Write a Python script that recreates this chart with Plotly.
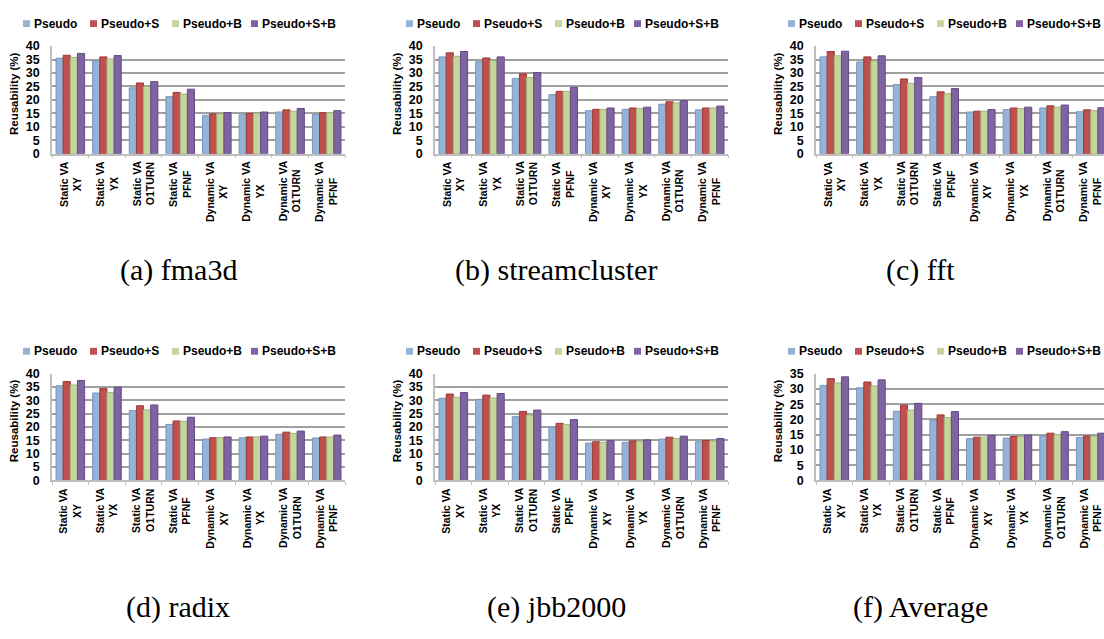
import plotly.graph_objects as go

W, H = 1104, 639

categories = [
    "Static VA<br>XY", "Static VA<br>YX", "Static VA<br>O1TURN", "Static VA<br>PFNF",
    "Dynamic VA<br>XY", "Dynamic VA<br>YX", "Dynamic VA<br>O1TURN", "Dynamic VA<br>PFNF",
]
series_names = ["Pseudo", "Pseudo+S", "Pseudo+B", "Pseudo+S+B"]
series_colors = ["#95B3D7", "#C0504D", "#C3D69B", "#8064A2"]
edge_colors = ["#7A96BA", "#9C3A37", "#A3B67C", "#634A84"]

# Reusability (%) per benchmark: Pseudo, Pseudo+S, Pseudo+B, Pseudo+S+B
fma3d_pseudo = [35.5, 34.5, 24.5, 21.2, 14.3, 14.5, 15.5, 14.7]
fma3d_s      = [36.6, 36.0, 26.3, 22.8, 14.8, 15.0, 16.3, 15.2]
fma3d_b      = [35.8, 35.2, 25.0, 22.2, 14.8, 15.0, 15.8, 15.2]
fma3d_sb     = [37.3, 36.5, 26.8, 24.0, 15.3, 15.5, 16.8, 16.0]

stream_pseudo = [36.0, 34.2, 28.0, 22.0, 16.0, 16.5, 18.4, 16.3]
stream_s      = [37.5, 35.6, 29.7, 23.2, 16.5, 17.0, 19.3, 17.0]
stream_b      = [36.2, 34.6, 28.3, 23.2, 16.4, 16.8, 18.9, 17.0]
stream_sb     = [38.0, 36.0, 30.2, 24.7, 17.0, 17.3, 19.7, 17.7]

fft_pseudo = [36.0, 34.1, 25.7, 21.2, 15.5, 16.4, 17.0, 15.6]
fft_s      = [38.0, 36.0, 27.8, 23.0, 15.8, 17.0, 17.8, 16.3]
fft_b      = [36.4, 34.5, 26.2, 22.3, 15.8, 16.8, 17.3, 16.0]
fft_sb     = [38.1, 36.4, 28.3, 24.2, 16.4, 17.3, 18.1, 17.1]

radix_pseudo = [35.5, 32.8, 26.2, 21.0, 15.5, 16.0, 17.3, 15.9]
radix_s      = [37.1, 34.5, 28.0, 22.3, 16.0, 16.3, 18.1, 16.3]
radix_b      = [35.8, 33.0, 26.5, 22.2, 16.0, 16.3, 17.6, 16.3]
radix_sb     = [37.5, 35.0, 28.3, 23.7, 16.3, 16.6, 18.5, 17.0]

jbb_pseudo = [30.8, 30.4, 23.9, 20.0, 14.0, 14.3, 15.5, 14.5]
jbb_s      = [32.4, 32.0, 25.9, 21.4, 14.5, 14.8, 16.2, 15.0]
jbb_b      = [31.2, 30.9, 24.5, 21.0, 14.3, 14.5, 15.7, 14.8]
jbb_sb     = [33.0, 32.6, 26.4, 22.8, 14.9, 15.2, 16.6, 15.7]

avg_pseudo = [31.2, 30.4, 22.7, 19.8, 13.7, 13.9, 14.6, 14.1]
avg_s      = [33.4, 32.3, 24.7, 21.5, 14.2, 14.4, 15.5, 14.6]
avg_b      = [32.0, 31.0, 23.1, 20.6, 14.2, 14.4, 15.0, 14.5]
avg_sb     = [34.0, 33.0, 25.3, 22.6, 14.8, 14.9, 16.0, 15.5]

panels = [
    ("(a) fma3d",         [fma3d_pseudo, fma3d_s, fma3d_b, fma3d_sb], 40),
    ("(b) streamcluster", [stream_pseudo, stream_s, stream_b, stream_sb], 40),
    ("(c) fft",           [fft_pseudo, fft_s, fft_b, fft_sb], 40),
    ("(d) radix",         [radix_pseudo, radix_s, radix_b, radix_sb], 40),
    ("(e) jbb2000",       [jbb_pseudo, jbb_s, jbb_b, jbb_sb], 40),
    ("(f) Average",       [avg_pseudo, avg_s, avg_b, avg_sb], 35),
]

# panel geometry in pixels
col_left = [52, 435, 816]
plot_w = 293
row_top = [40, 375]
row_bottom = [150, 484]
legend_x = [23, 406, 788]
legend_y = [17, 352]
caption_x = [178, 556, 920]
caption_y = [269, 613]

SANS = "Liberation Sans, Arial, sans-serif"
SERIF = "Liberation Serif, Times New Roman, serif"

fig = go.Figure()
shapes = []
annotations = []

for k, (caption, values, ymax) in enumerate(panels):
    r, c = divmod(k, 3)
    idx = "" if k == 0 else str(k + 1)
    xname, yname = "x" + idx, "y" + idx
    x0 = col_left[c]
    x1 = min(W, x0 + plot_w)
    xhi = -0.5 + 8 * (x1 - x0) / plot_w

    for s, name in enumerate(series_names):
        fig.add_trace(go.Bar(
            x=list(range(8)), y=values[s], name=name,
            marker=dict(color=series_colors[s], line=dict(color=edge_colors[s], width=1)),
            xaxis=xname, yaxis=yname, showlegend=False,
        ))

    fig.layout["xaxis" + idx] = dict(
        domain=[x0 / W, x1 / W], range=[-0.5, xhi], anchor=yname,
        showticklabels=False, showgrid=False, zeroline=False,
        showline=True, linecolor="#BFBFBF", linewidth=1.5,
        ticks="outside", tickvals=[i - 0.5 for i in range(9)], ticklen=3,
        tickcolor="#BFBFBF",
    )
    fig.layout["yaxis" + idx] = dict(
        domain=[1 - row_bottom[r] / H, 1 - row_top[r] / H], range=[0, ymax],
        anchor=xname, dtick=5, tick0=0,
        showgrid=True, gridcolor="#A0A0A0", gridwidth=2, zeroline=False,
        showline=True, linecolor="#BFBFBF", linewidth=1.5,
        ticks="", ticklabelstandoff=8,
        tickfont=dict(family=SANS, size=12.5, color="black", weight="bold"),
    )

    # category labels under the groups
    for i, lab in enumerate(categories):
        annotations.append(dict(
            x=i, y=1 - row_bottom[r] / H, xref=xname, yref="paper",
            text=lab, textangle=-90, showarrow=False,
            xanchor="center", yanchor="top", yshift=-5, align="center",
            font=dict(family=SANS, size=10.5, color="black", weight="bold"),
        ))

    # y-axis title
    annotations.append(dict(
        x=(x0 - 38) / W, y=1 - ((row_top[r] + row_bottom[r]) / 2 - 6) / H,
        xref="paper", yref="paper", text="Reusability (%)", textangle=-90,
        showarrow=False, xanchor="center", yanchor="middle",
        font=dict(family=SANS, size=11.5, color="black", weight="bold"),
    ))

    # legend row
    lx = legend_x[c]
    ly = legend_y[r]
    offsets = [0, 67, 149, 228]
    for s, name in enumerate(series_names):
        sx = lx + offsets[s]
        shapes.append(dict(
            type="rect", xref="paper", yref="paper",
            x0=sx / W, x1=(sx + 7) / W, y0=1 - (ly + 3.5) / H, y1=1 - (ly - 3.5) / H,
            fillcolor=series_colors[s], line=dict(width=0),
        ))
        annotations.append(dict(
            x=(sx + 9) / W, y=1 - ly / H, xref="paper", yref="paper",
            text=name, showarrow=False, xanchor="left", yanchor="middle",
            font=dict(family=SANS, size=12, color="black", weight="bold"),
        ))

    # caption
    annotations.append(dict(
        x=caption_x[c] / W, y=1 - caption_y[r] / H, xref="paper", yref="paper",
        text=caption, showarrow=False, xanchor="center", yanchor="middle",
        font=dict(family=SERIF, size=30, color="black"),
    ))

fig.update_layout(
    width=W, height=H, margin=dict(l=0, r=0, t=0, b=0),
    paper_bgcolor="white", plot_bgcolor="white",
    barmode="group", bargap=0.22, bargroupgap=0,
    shapes=shapes, annotations=annotations, showlegend=False,
)

fig.write_html("out.html")
